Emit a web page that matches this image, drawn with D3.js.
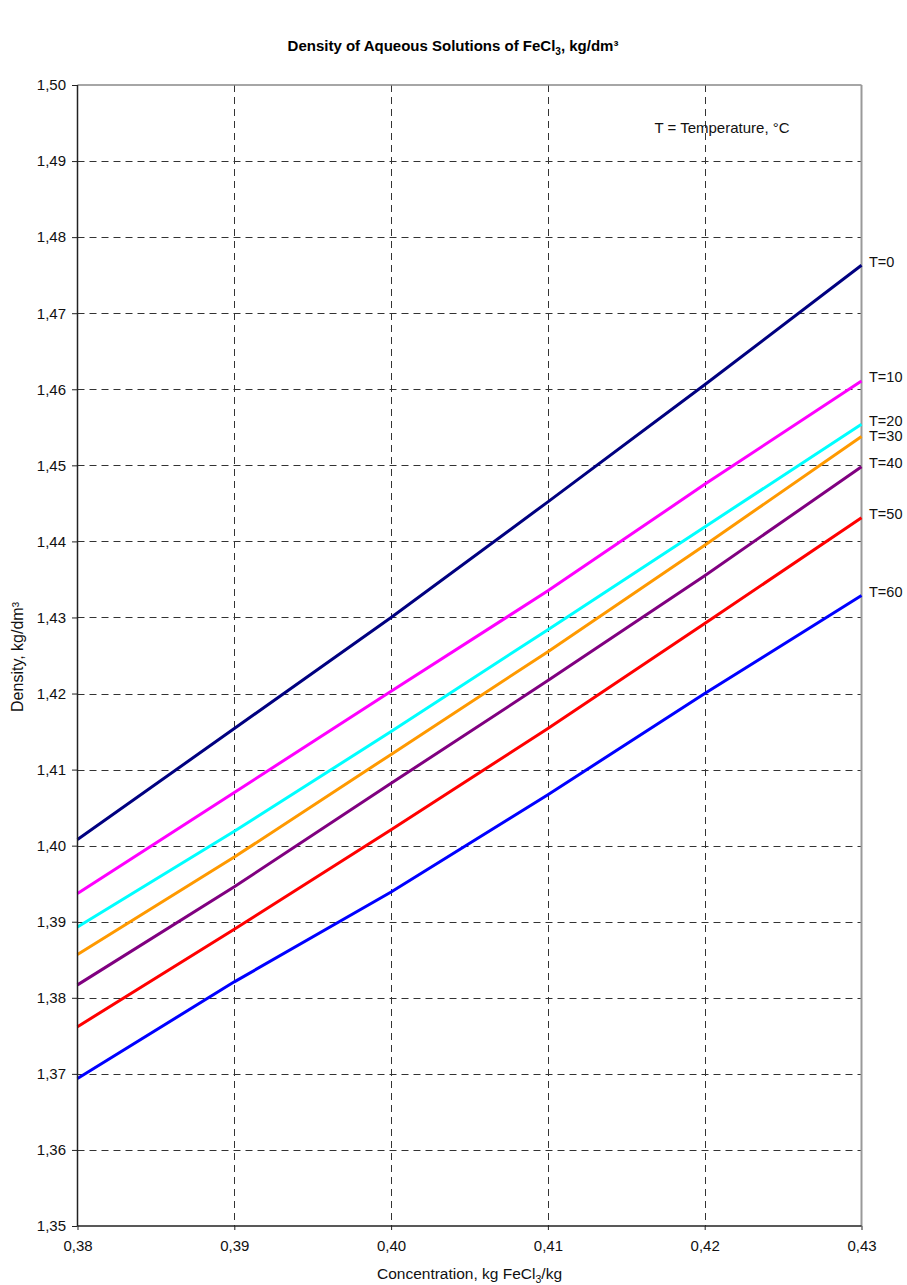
<!DOCTYPE html>
<html>
<head>
<meta charset="utf-8">
<script src="https://cdnjs.cloudflare.com/ajax/libs/d3/7.8.5/d3.min.js"></script>
<style>
  body { margin: 0; background: #fff; }
  svg { display: block; font-family: "Liberation Sans", Arial, Helvetica, sans-serif; }
</style>
</head>
<body>
<svg id="chart" width="907" height="1285"></svg>
<script>
// ---- Data ----
const concentrations = [0.38, 0.39, 0.40, 0.41, 0.42, 0.43];
const temperatures = [0, 10, 20, 30, 40, 50, 60];
const densityT0  = [1.4008, 1.4154, 1.4300, 1.4452, 1.4606, 1.4763];
const densityT10 = [1.3937, 1.4070, 1.4203, 1.4335, 1.4475, 1.4611];
const densityT20 = [1.3893, 1.4019, 1.4150, 1.4284, 1.4419, 1.4554];
const densityT30 = [1.3857, 1.3985, 1.4120, 1.4255, 1.4395, 1.4538];
const densityT40 = [1.3817, 1.3946, 1.4082, 1.4217, 1.4355, 1.4498];
const densityT50 = [1.3762, 1.3890, 1.4021, 1.4154, 1.4292, 1.4431];
const densityT60 = [1.3694, 1.3821, 1.3939, 1.4067, 1.4200, 1.4329];
const xTicks = [0.38, 0.39, 0.40, 0.41, 0.42, 0.43];
const yTicks = [1.35, 1.36, 1.37, 1.38, 1.39, 1.40, 1.41, 1.42, 1.43, 1.44, 1.45, 1.46, 1.47, 1.48, 1.49, 1.50];

const seriesValues = [densityT0, densityT10, densityT20, densityT30, densityT40, densityT50, densityT60];
const seriesColors = ["#000080", "#FF00FF", "#00FFFF", "#FF9900", "#800080", "#FF0000", "#0000FF"];

(function () {
// ---- Layout ----
const svg = d3.select("#chart");
const pL = 77.5, pR = 861.5, pT = 85, pB = 1226;
const fmt = v => d3.format(".2f")(v).replace(".", ",");

const x = d3.scaleLinear().domain([0.38, 0.43]).range([pL, pR]);
const y = d3.scaleLinear().domain([1.35, 1.50]).range([pB, pT]);

// Title
const title = svg.append("text")
  .attr("x", 453).attr("y", 51)
  .attr("text-anchor", "middle")
  .attr("font-size", 15).attr("font-weight", "bold")
  .attr("fill", "#000");
title.append("tspan").text("Density of Aqueous Solutions of FeCl");
title.append("tspan").attr("font-size", 10).attr("dy", 4).text("3");
title.append("tspan").attr("dy", -4).text(", kg/dm³");

// Grid lines
svg.append("g").selectAll("line")
  .data(yTicks.filter(v => v > 1.35 && v < 1.50))
  .join("line")
  .attr("x1", pL).attr("x2", pR)
  .attr("y1", d => Math.round(y(d)) + 0.5).attr("y2", d => Math.round(y(d)) + 0.5)
  .attr("stroke", "#333").attr("stroke-width", 1)
  .attr("stroke-dasharray", "7,5");

svg.append("g").selectAll("line")
  .data(xTicks.filter(v => v > 0.38 && v < 0.43))
  .join("line")
  .attr("x1", d => Math.round(x(d)) + 0.5).attr("x2", d => Math.round(x(d)) + 0.5)
  .attr("y1", pT).attr("y2", pB)
  .attr("stroke", "#333").attr("stroke-width", 1)
  .attr("stroke-dasharray", "7,5");

// Plot border (top, right) gray
svg.append("line").attr("x1", pL).attr("x2", pR).attr("y1", pT).attr("y2", pT)
  .attr("stroke", "#888").attr("stroke-width", 1.5);
svg.append("line").attr("x1", pR).attr("x2", pR).attr("y1", pT).attr("y2", pB)
  .attr("stroke", "#999").attr("stroke-width", 2);

// Series lines
const line = d3.line().x((d, i) => x(concentrations[i])).y(d => y(d));
svg.append("g").selectAll("path")
  .data(seriesValues)
  .join("path")
  .attr("d", d => line(d))
  .attr("fill", "none")
  .attr("stroke", (d, i) => seriesColors[i])
  .attr("stroke-width", 3);

// Axes
const xAxis = d3.axisBottom(x).tickValues(xTicks).tickFormat(fmt).tickSize(4).tickPadding(10);
const yAxis = d3.axisLeft(y).tickValues(yTicks).tickFormat(fmt).tickSize(5.5).tickPadding(6);

const gx = svg.append("g").attr("transform", `translate(0,${pB})`).call(xAxis);
const gy = svg.append("g").attr("transform", `translate(${pL},0)`).call(yAxis);
[gx, gy].forEach(g => {
  g.select(".domain").attr("stroke", "#222").attr("stroke-width", 1.5);
  g.selectAll(".tick line").attr("stroke", "#222");
  g.selectAll(".tick text").attr("font-size", 15).attr("fill", "#111")
    .attr("font-family", "Liberation Sans, Arial, sans-serif");
});
gx.select(".domain").attr("d", `M${pL},0H${pR}`);
gy.select(".domain").attr("d", `M0,${pT}V${pB}`);

// Axis titles
svg.append("text")
  .attr("transform", `translate(23,657) rotate(-90)`)
  .attr("text-anchor", "middle")
  .attr("font-size", 16).attr("fill", "#111")
  .text("Density, kg/dm³");

const xt = svg.append("text")
  .attr("x", (pL + pR) / 2).attr("y", 1279)
  .attr("text-anchor", "middle")
  .attr("font-size", 15.5).attr("fill", "#111");
xt.append("tspan").text("Concentration, kg FeCl");
xt.append("tspan").attr("font-size", 10.5).attr("dy", 4).text("3");
xt.append("tspan").attr("dy", -4).text("/kg");

// Temperature note
svg.append("text")
  .attr("x", 722).attr("y", 133)
  .attr("text-anchor", "middle")
  .attr("font-size", 15).attr("fill", "#111")
  .text("T = Temperature, °C");

// Series end labels, with simple overlap avoidance
let prevY = -Infinity;
const labelYs = seriesValues.map(v => {
  let ly = y(v[v.length - 1]) - 4;
  if (ly < prevY + 15.5) ly = prevY + 15.5;
  prevY = ly;
  return ly;
});
svg.append("g").selectAll("text")
  .data(temperatures)
  .join("text")
  .attr("x", pR + 7.5)
  .attr("y", (d, i) => labelYs[i] + 5.4)
  .attr("font-size", 14.5).attr("fill", "#111")
  .text(d => "T=" + d);
})();
</script>
</body>
</html>
